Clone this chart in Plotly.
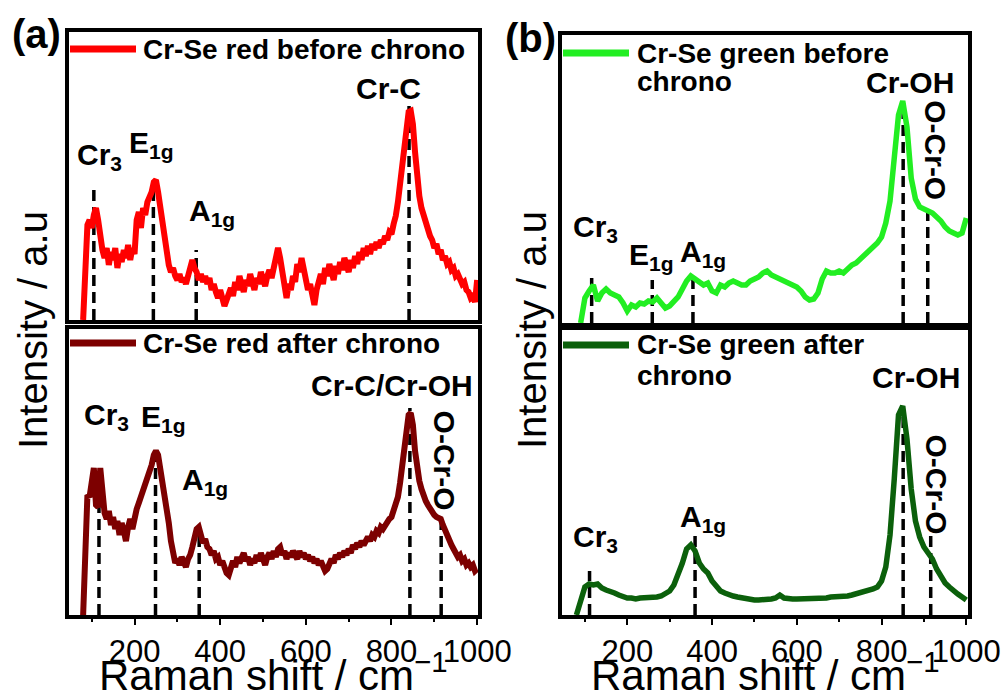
import plotly.graph_objects as go

# ---------------- data ----------------
red_x = list(range(80, 1001, 5))
red_before = [
    0, 60, 95, 100, 92, 105, 112, 100, 80, 70,
    62, 72, 55, 68, 60, 72, 52, 66, 58, 70,
    62, 75, 60, 72, 66, 100, 108, 92, 112, 105,
    118, 122, 128, 138, 140, 128, 112, 95, 82, 65,
    55, 48, 52, 44, 40, 46, 38, 42, 36, 44,
    50, 60, 52, 48, 40, 46, 38, 44, 36, 42,
    30, 36, 28, 22, 30, 18, 14, 20, 26, 32,
    24, 38, 30, 44, 36, 28, 40, 34, 46, 38,
    30, 42, 36, 48, 40, 34, 44, 50, 42, 54,
    60, 72, 62, 45, 30, 22, 36, 30, 44, 38,
    56, 48, 62, 50, 40, 30, 36, 24, 15, 30,
    38, 46, 36, 52, 44, 56, 48, 40, 54, 46,
    58, 50, 62, 54, 48, 60, 52, 64, 56, 68,
    60, 72, 64, 74, 66, 76, 70, 78, 72, 80,
    76, 84, 80, 88, 86, 96, 104, 118, 136, 158,
    180, 198, 208, 209, 196, 168, 142, 124, 112, 104,
    96, 92, 84, 80, 72, 76, 66, 70, 60, 64,
    56, 58, 50, 52, 44, 46, 40, 36, 38, 30,
    28, 22, 24, 18, 40,
]
red_after = [
    0, 80, 120, 118, 140, 147, 110, 108, 147, 120,
    102, 96, 104, 90, 98, 86, 94, 80, 92, 84,
    74, 88, 96, 86, 100, 106, 112, 118, 124, 130,
    138, 146, 150, 160, 164, 160, 148, 132, 118, 104,
    92, 74, 60, 52, 56, 50, 58, 54, 48, 56,
    60, 68, 78, 86, 88, 80, 72, 76, 68, 66,
    60, 64, 56, 58, 50, 54, 46, 42, 40, 50,
    54, 48, 58, 52, 56, 62, 54, 58, 50, 56,
    52, 60, 54, 62, 56, 50, 58, 62, 56, 64,
    58, 66, 68, 60, 64, 56, 62, 58, 64, 60,
    56, 64, 58, 62, 56, 60, 54, 58, 52, 56,
    50, 54, 48, 44, 46, 52, 56, 52, 60, 56,
    62, 58, 64, 60, 66, 62, 70, 66, 72, 68,
    74, 70, 76, 78, 74, 80, 78, 84, 82, 88,
    86, 90, 92, 96, 98, 104, 110, 118, 132, 150,
    172, 188, 200, 202, 190, 164, 146, 134, 126, 118,
    114, 110, 106, 104, 100, 98, 96, 96, 90, 84,
    78, 76, 70, 66, 62, 58, 60, 54, 56, 50,
    52, 48, 50, 44, 46,
]
green_before_x = list(range(90, 1001, 10))
green_before = [
    0, 25, 32, 38, 22, 30, 34, 30, 28, 26,
    20, 12, 18, 16, 20, 19, 22, 21, 25, 20,
    15, 17, 22, 26, 34, 42, 47, 44, 42, 38,
    40, 32, 30, 38, 36, 40, 42, 40, 38, 38,
    42, 44, 46, 50, 52, 48, 46, 44, 42, 40,
    38, 36, 32, 26, 23, 24, 30, 44, 52, 50,
    50, 52, 50, 54, 58, 60, 64, 68, 72, 76,
    80, 86, 100, 122, 170, 208, 222, 196, 145, 124,
    116, 114, 112, 110, 106, 102, 96, 92, 90, 88,
    90, 105,
]
green_after_x = list(range(80, 1001, 10))
green_after = [
    0, 12, 28, 31, 30, 31, 27, 25, 24, 22,
    20, 18, 17, 17, 16, 17, 17, 17, 18, 18,
    19, 21, 24, 30, 40, 52, 66, 70, 64, 52,
    46, 42, 34, 28, 24, 22, 20, 19, 18, 17,
    16, 15, 15, 15, 15, 16, 16, 17, 20, 17,
    16, 16, 16, 16, 16, 16, 17, 17, 17, 17,
    18, 18, 18, 19, 19, 20, 21, 22, 23, 24,
    26, 28, 34, 48, 80, 136, 200, 209, 176, 126,
    94, 78, 68, 62, 56, 46, 38, 32, 28, 24,
    21, 18, 15,
]

# peak markers (position, height of dashed line)
peaks_red_before_x = [105, 244, 344, 841]
peaks_red_before_h = [130, 132, 70, 214]
peaks_red_after_x = [117, 249, 351, 843, 916]
peaks_red_after_h = [135, 160, 90, 207, 100]
peaks_green_before_x = [116, 259, 355, 851, 909]
peaks_green_before_h = [48, 43, 50, 212, 118]
peaks_green_after_x = [111, 360, 851, 916]
peaks_green_after_h = [44, 80, 207, 79]

tick_vals = [200, 400, 600, 800, 1000]
minor_tick_vals = [100, 300, 500, 700, 900]

FONT = "Liberation Sans, Arial, sans-serif"
BLACK = "black"
C_RED = "#FF0000"
C_DRED = "#7D0000"
C_LGREEN = "#22EE22"
C_DGREEN = "#0B600B"

fig = go.Figure()

def add_series(x, y, color, ax, w):
    fig.add_trace(go.Scatter(x=x, y=y, mode="lines", line=dict(color=color, width=w),
                             xaxis="x" + ax, yaxis="y" + ax, showlegend=False, hoverinfo="skip"))

def add_peaks(px_, ph, ax):
    for p, h in zip(px_, ph):
        fig.add_trace(go.Scatter(x=[p, p], y=[0, h], mode="lines",
                                 line=dict(color=BLACK, width=3.5, dash="11px,6px"),
                                 xaxis="x" + ax, yaxis="y" + ax, showlegend=False, hoverinfo="skip"))

add_peaks(peaks_red_before_x, peaks_red_before_h, "")
add_series(red_x, red_before, C_RED, "", 6)
add_peaks(peaks_red_after_x, peaks_red_after_h, "2")
add_series(red_x, red_after, C_DRED, "2", 6)
add_peaks(peaks_green_before_x, peaks_green_before_h, "3")
add_series(green_before_x, green_before, C_LGREEN, "3", 5.5)
add_peaks(peaks_green_after_x, peaks_green_after_h, "4")
add_series(green_after_x, green_after, C_DGREEN, "4", 5.5)

W, H = 1006, 694
def px(v): return v / W
def py(v): return 1 - v / H

def xax(dom, anchor, rng, labels):
    d = dict(domain=dom, anchor=anchor, range=rng, showline=True, mirror=True, linewidth=4,
             linecolor=BLACK, showgrid=False, zeroline=False, fixedrange=True, automargin=False)
    if labels:
        d.update(ticks="outside", ticklen=6, tickwidth=2, tickcolor=BLACK, tickvals=tick_vals,
                 tickfont=dict(family=FONT, size=31, color=BLACK),
                 minor=dict(ticks="outside", ticklen=3, tickwidth=2, tickcolor=BLACK,
                            tickvals=minor_tick_vals))
    else:
        d.update(ticks="", showticklabels=False)
    return d

def yax(dom, anchor, top):
    return dict(domain=dom, anchor=anchor, range=[0, top], showline=True, mirror=True, linewidth=4,
                linecolor=BLACK, showgrid=False, zeroline=False, ticks="", showticklabels=False,
                fixedrange=True, automargin=False)

xa_a = [px(69), px(478)]
xa_b = [px(562), px(968)]
fig.update_layout(
    width=W, height=H, autosize=False, margin=dict(l=0, r=0, t=0, b=0, autoexpand=False),
    paper_bgcolor="white", plot_bgcolor="white",
    xaxis=xax(xa_a, "y", [47, 1002], False),
    yaxis=yax([py(320), py(32)], "x", 288),
    xaxis2=xax(xa_a, "y2", [47, 1002], True),
    yaxis2=yax([py(615), py(329)], "x2", 286),
    xaxis3=xax(xa_b, "y3", [46, 1004], False),
    yaxis3=yax([py(323), py(35)], "x3", 288),
    xaxis4=xax(xa_b, "y4", [46, 1004], True),
    yaxis4=yax([py(615), py(330)], "x4", 285),
)

ann = []
def lab(text, x, y, ax, angle=0):
    ann.append(dict(text=text, x=x, y=y, xref="x" + ax, yref="y" + ax, showarrow=False,
                    textangle=angle, font=dict(family=FONT, size=30, color=BLACK, weight="bold")))

lab("Cr<sub>3</sub>", 119, 164, "")
lab("E<sub>1g</sub>", 239, 176, "")
lab("A<sub>1g</sub>", 380, 108, "")
lab("Cr-C", 794, 232, "")
lab("Cr<sub>3</sub>", 135, 199, "2")
lab("E<sub>1g</sub>", 267, 197, "2")
lab("A<sub>1g</sub>", 364, 134, "2")
lab("Cr-C/Cr-OH", 801, 230, "2")
lab("O-Cr-O", 926, 154, "2", 90)
lab("Cr<sub>3</sub>", 126, 95, "3")
lab("E<sub>1g</sub>", 257, 67, "3")
lab("A<sub>1g</sub>", 378, 70, "3")
lab("Cr-OH", 867, 241, "3")
lab("O-Cr-O", 928, 173, "3", 90)
lab("Cr<sub>3</sub>", 126, 77, "4")
lab("A<sub>1g</sub>", 378, 97, "4")
lab("Cr-OH", 881, 238, "4")
lab("O-Cr-O", 932, 130, "4", 90)

def ptext(text, x, y, size, bold=True, angle=0, xanchor="left"):
    ann.append(dict(text=text, x=px(x), y=py(y), xref="paper", yref="paper", showarrow=False,
                    xanchor=xanchor, yanchor="middle", textangle=angle,
                    font=dict(family=FONT, size=size, color=BLACK, weight="bold" if bold else "normal")))

# legends
shapes = []
def leg_line(x0, x1, y, color):
    shapes.append(dict(type="line", xref="paper", yref="paper", x0=px(x0), x1=px(x1), y0=py(y), y1=py(y),
                       line=dict(color=color, width=7)))

leg_line(70, 136, 49, C_RED)
ptext("Cr-Se red before chrono", 141, 49, 28)
leg_line(70, 136, 343, C_DRED)
ptext("Cr-Se red after chrono", 141, 343, 28)
leg_line(563, 629, 53, C_LGREEN)
ptext("Cr-Se green before", 635, 53, 28)
ptext("chrono", 635, 82, 28)
leg_line(563, 629, 345, C_DGREEN)
ptext("Cr-Se green after", 635, 345, 28)
ptext("chrono", 635, 375, 28)

# panel labels
ptext("(a)", 10, 34, 40)
ptext("(b)", 503, 38, 40)

# axis titles
ptext("Intensity / a.u", 33, 330, 40, bold=False, angle=-90, xanchor="center")
ptext("Intensity / a.u", 532, 330, 40, bold=False, angle=-90, xanchor="center")
ptext("Raman shift / cm<sup>\u22121</sup>", 273, 672, 42, bold=False, xanchor="center")
ptext("Raman shift / cm<sup>\u22121</sup>", 765, 672, 42, bold=False, xanchor="center")

fig.update_layout(annotations=ann, shapes=shapes)
fig.write_html("out.html", config={"responsive": False})
